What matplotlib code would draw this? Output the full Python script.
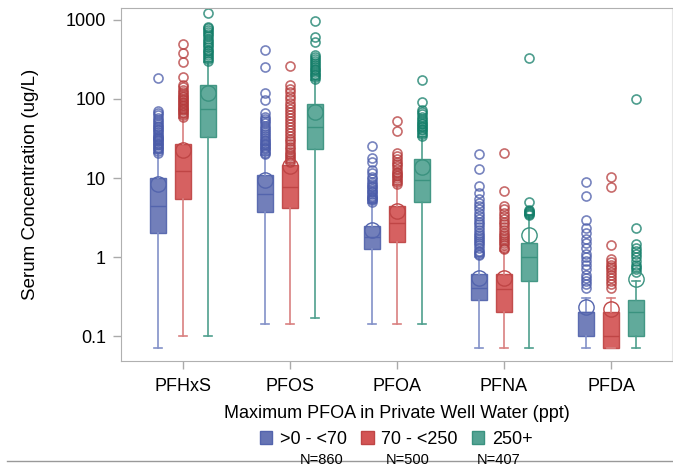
import matplotlib
matplotlib.use('Agg')
import matplotlib.pyplot as plt
from matplotlib.patches import Patch
from matplotlib.lines import Line2D

plt.rcParams['font.family'] = ['Liberation Sans', 'DejaVu Sans']

groups = ['PFHxS', 'PFOS', 'PFOA', 'PFNA', 'PFDA']
series_labels = ['>0 - <70', '70 - <250', '250+']
n_labels = ['N=860', 'N=500', 'N=407']

# box stats per series, one value per compound (ug/L)
low_whislo = [0.07, 0.14, 0.14, 0.07, 0.07]
low_q1 = [2.0, 3.7, 1.26, 0.29, 0.1]
low_med = [4.4, 6.3, 1.8, 0.41, 0.2]
low_q3 = [10.0, 10.9, 2.5, 0.61, 0.2]
low_whishi = [20.5, 19.5, 4.8, 1.0, 0.3]
low_mean = [8.4, 9.4, 2.2, 0.54, 0.23]
low_out = [
    [21, 22, 23, 24, 25, 26, 27, 28, 29, 30, 31, 32, 33, 34, 36, 38, 40, 42, 44, 46, 48, 51, 54, 58, 62, 66, 71, 184],
    [20, 21, 22, 23, 24, 25, 26, 27, 28, 29, 30, 32, 34, 36, 38, 40, 43, 46, 49, 52, 56, 60, 66, 98, 119, 254, 417],
    [5.0, 5.2, 5.4, 5.6, 5.8, 6.0, 6.3, 6.6, 6.9, 7.2, 7.6, 8.0, 8.5, 9.0, 9.6, 10.3, 11.5, 12.5, 16, 18, 25.5],
    [1.05, 1.1, 1.15, 1.2, 1.3, 1.4, 1.5, 1.6, 1.7, 1.8, 1.9, 2.0, 2.2, 2.4, 2.6, 2.8, 3.0, 3.3, 3.6, 4.0, 4.4, 4.8, 5.5, 6.5, 8.0, 13, 20],
    [0.4, 0.45, 0.5, 0.55, 0.6, 0.7, 0.8, 0.9, 1.0, 1.1, 1.3, 1.5, 1.7, 2.0, 2.3, 2.9, 5.9, 8.9],
]

mid_whislo = [0.1, 0.14, 0.14, 0.07, 0.07]
mid_q1 = [5.4, 4.2, 1.55, 0.2, 0.07]
mid_med = [12.3, 7.7, 2.7, 0.39, 0.1]
mid_q3 = [27, 14.6, 4.4, 0.61, 0.2]
mid_whishi = [58, 15.5, 8.2, 1.2, 0.3]
mid_mean = [22.6, 14, 3.8, 0.55, 0.22]
mid_out = [
    [60, 63, 66, 69, 72, 75, 78, 81, 84, 88, 92, 96, 100, 105, 110, 116, 122, 130, 140, 150, 190, 295, 380, 495],
    [16, 17, 18, 19, 20, 21.5, 23, 25, 27, 29, 31, 34, 37, 40, 44, 48, 52, 57, 62, 68, 75, 82, 90, 100, 110, 122, 135, 150, 262],
    [8.5, 9.0, 9.5, 10, 10.5, 11, 11.5, 12, 13, 14, 15, 16, 17.5, 19, 20.5, 39, 52],
    [1.25, 1.3, 1.4, 1.5, 1.6, 1.7, 1.8, 1.9, 2.0, 2.2, 2.4, 2.6, 2.8, 3.0, 3.3, 3.6, 4.0, 4.4, 6.9, 20.7],
    [0.4, 0.45, 0.5, 0.55, 0.6, 0.65, 0.7, 0.75, 0.8, 0.87, 0.94, 1.4, 7.7, 10.3],
]

high_whislo = [0.1, 0.17, 0.14, 0.07, 0.07]
high_q1 = [33, 23.3, 5.0, 0.5, 0.1]
high_med = [75, 44, 9.4, 1.0, 0.2]
high_q3 = [150, 86, 17.4, 1.5, 0.29]
high_whishi = [290, 173, 33, 3.4, 0.5]
high_mean = [119, 68, 13.8, 1.9, 0.53]
high_out = [
    [300, 320, 340, 360, 380, 400, 420, 450, 480, 510, 540, 580, 620, 660, 700, 740, 780, 815, 1220],
    [180, 190, 200, 210, 220, 230, 240, 255, 270, 285, 300, 320, 340, 360, 530, 610, 970],
    [34, 36, 38, 40, 42, 44, 46, 48, 50, 53, 56, 60, 64, 68, 72, 92, 174],
    [3.4, 3.5, 3.6, 3.7, 3.8, 3.9, 5.0, 330],
    [0.65, 0.7, 0.75, 0.8, 0.9, 1.0, 1.1, 1.2, 1.3, 1.45, 2.3, 100],
]

series = [
    (low_whislo, low_q1, low_med, low_q3, low_whishi, low_mean, low_out),
    (mid_whislo, mid_q1, mid_med, mid_q3, mid_whishi, mid_mean, mid_out),
    (high_whislo, high_q1, high_med, high_q3, high_whishi, high_mean, high_out),
]

face_colors = ['#6674b4', '#d35454', '#54a393']
edge_colors = ['#5364ad', '#bf4545', '#3a927f']
whisk_colors = ['#8391c8', '#d98080', '#4f9f8e']
flier_colors = ['#4a5ba9', '#b53a3a', '#127d68']
offsets = [-0.234, 0.0, 0.234]

fig = plt.figure(figsize=(6.73, 4.68), dpi=100)
ax = fig.add_axes([0.18, 0.2286, 0.8185, 0.7544])

for k, (wlo, q1, med, q3, whi, mean, out) in enumerate(series):
    stats = []
    for i in range(len(groups)):
        stats.append(dict(whislo=wlo[i], q1=q1[i], med=med[i], q3=q3[i],
                          whishi=whi[i], mean=mean[i], fliers=out[i]))
    pos = [i + 1 + offsets[k] for i in range(len(groups))]
    ax.bxp(stats, positions=pos, widths=0.15, capwidths=0.075,
           patch_artist=True, showmeans=True, manage_ticks=False,
           boxprops=dict(facecolor=face_colors[k], edgecolor=edge_colors[k], linewidth=1, alpha=0.92),
           medianprops=dict(color=edge_colors[k], linewidth=1),
           whiskerprops=dict(color=whisk_colors[k], linewidth=1.2),
           capprops=dict(color=whisk_colors[k], linewidth=1.2),
           meanprops=dict(marker='o', markerfacecolor='none', markeredgecolor=edge_colors[k],
                          markersize=11, markeredgewidth=1),
           flierprops=dict(marker='o', markerfacecolor='none', markeredgecolor=flier_colors[k],
                           markersize=6.5, markeredgewidth=1.2, alpha=0.75))

ax.set_yscale('log')
ax.set_ylim(0.0483, 1419)
ax.set_xlim(0.42, 5.57)
ax.set_yticks([0.1, 1, 10, 100, 1000])
ax.set_yticklabels(['0.1', '1', '10', '100', '1000'])
ax.minorticks_off()
ax.set_xticks(range(1, len(groups) + 1))
ax.set_xticklabels(groups)
ax.tick_params(axis='both', labelsize=13, color='#aaaaaa', width=1, length=6)
ax.tick_params(axis='x', pad=6)
ax.tick_params(axis='y', pad=5)
for side in ['left', 'bottom', 'top']:
    ax.spines[side].set_color('#b0b0b0')
ax.spines['right'].set_color('#e6e6e6')

ax.set_ylabel('Serum Concentration (ug/L)', fontsize=13.5)
ax.yaxis.set_label_coords(-0.15, 0.5)

fig.text(397 / 673, 1 - 414 / 468, 'Maximum PFOA in Private Well Water (ppt)',
         ha='center', va='center', fontsize=13)
handles = [Patch(facecolor=face_colors[k], edgecolor=edge_colors[k]) for k in range(3)]
fig.legend(handles, series_labels, loc='center',
           bbox_to_anchor=(396 / 673, 1 - 439 / 468), ncol=3,
           frameon=False, fontsize=13, handlelength=0.7,
           handleheight=0.7, handletextpad=0.4, columnspacing=0.8, borderpad=0)

n_x = [322, 408, 499]
for k in range(3):
    fig.text(n_x[k] / 673, 1 - 459.5 / 468, n_labels[k], ha='center', va='center', fontsize=10.5)

fig.add_artist(Line2D([7 / 673, 1], [1 - 461 / 468, 1 - 461 / 468], color='#999999', lw=1))

fig.savefig('out.png', dpi=100)
